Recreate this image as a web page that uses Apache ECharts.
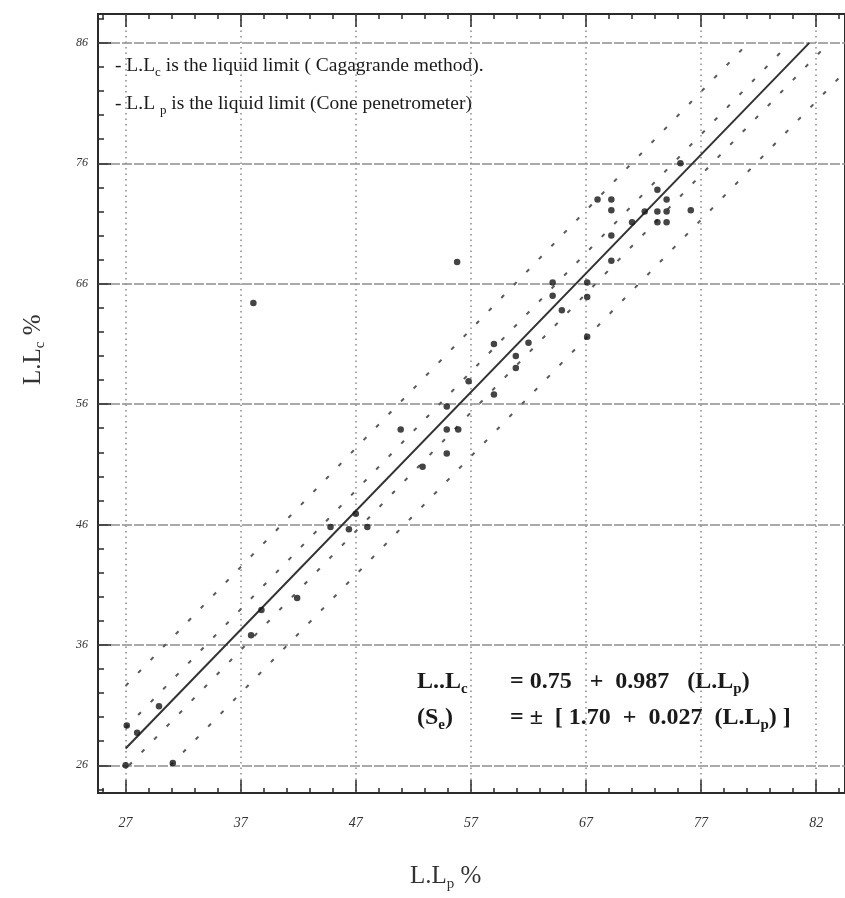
<!DOCTYPE html>
<html>
<head>
<meta charset="utf-8">
<script src="https://cdn.jsdelivr.net/npm/echarts@6/dist/echarts.min.js"></script>
<style>
  html, body { margin: 0; padding: 0; background: #fff; }
  #chart { width: 845px; height: 898px; }
</style>
</head>
<body>
<div id="chart"></div>
<script>
// tick positions and their printed text
var xTickValues = [27, 37, 47, 57, 67, 77, 87];
var xTickText = ['27', '37', '47', '57', '67', '77', '82'];
var yTickValues = [26, 36, 46, 56, 66, 76, 86];
var yTickText = ['26', '36', '46', '56', '66', '76', '86'];

// regression line and the dashed bands (end points)
var fitLine = [[27, 27.4], [86.4, 86.0]];
var upperInner = [[27, 29.1], [84.7, 86.0]];
var upperOuter = [[27, 32.6], [81.1, 86.0]];
var lowerInner = [[27.3, 26.0], [88.1, 86.0]];
var lowerOuter = [[30.9, 26.0], [89.5, 83.6]];

// measured points  L.Lp (x) / L.Lc (y)
var pointX = [27.0, 27.1, 28.0, 29.9, 31.1, 37.9, 38.8, 41.9, 38.1,
  44.8, 46.4, 47.0, 48.0, 50.9, 52.8, 54.9, 54.9, 55.9, 54.9,
  56.8, 59.0, 55.8, 59.0, 60.9, 60.9, 62.0, 64.1, 64.1, 64.9,
  67.1, 67.1, 67.1, 68.0, 69.2, 69.2, 69.2, 69.2, 71.0, 72.1,
  73.2, 73.2, 73.2, 74.0, 74.0, 74.0, 75.2, 76.1];
var pointY = [26.0, 29.3, 28.7, 30.9, 26.2, 36.8, 38.9, 39.9, 64.4,
  45.8, 45.6, 46.9, 45.8, 53.9, 50.8, 51.9, 53.9, 53.9, 55.8,
  57.9, 56.8, 67.8, 61.0, 59.0, 60.0, 61.1, 65.0, 66.1, 63.8,
  61.6, 64.9, 66.1, 73.0, 73.0, 72.1, 70.0, 67.9, 71.1, 72.0,
  71.1, 72.0, 73.8, 71.1, 72.0, 73.0, 76.0, 72.1];

var xMin = 24.6, xMax = 89.5, yMin = 23.7, yMax = 88.4;

var xMinor = [], yMinor = [];
for (var v = 25; v <= 89; v += 2) { if (xTickValues.indexOf(v) < 0) xMinor.push(v); }
for (var w = 24; w <= 88; w += 2) { if (yTickValues.indexOf(w) < 0) yMinor.push(w); }

var points = pointX.map(function (x, i) { return [x, pointY[i]]; });

var myChart = echarts.init(document.getElementById('chart'));

var serif = 'Liberation Serif';
var frameColor = '#2b2b2b';

function xAxisDef(pos, ticks, len, labels, split) {
  return {
    type: 'value', position: pos, min: xMin, max: xMax,
    axisLine: { show: false },
    axisTick: { show: true, inside: true, length: len, customValues: ticks,
      lineStyle: { color: frameColor, width: 1.5 } },
    axisLabel: labels ? {
      show: true, customValues: xTickValues, margin: 23,
      color: '#333', fontFamily: serif, fontStyle: 'italic', fontSize: 14,
      formatter: function (val) { return xTickText[xTickValues.indexOf(val)]; }
    } : { show: false },
    splitLine: split ? { show: true, lineStyle: { color: '#8a8a8a', width: 1.5, type: [1.5, 4] } } : { show: false }
  };
}
function yAxisDef(pos, ticks, len, labels, split) {
  return {
    type: 'value', position: pos, min: yMin, max: yMax,
    axisLine: { show: false },
    axisTick: { show: true, inside: true, length: len, customValues: ticks,
      lineStyle: { color: frameColor, width: 1.5 } },
    axisLabel: labels ? {
      show: true, customValues: yTickValues, margin: 10,
      color: '#333', fontFamily: serif, fontStyle: 'italic', fontSize: 12,
      formatter: function (val) { return yTickText[yTickValues.indexOf(val)]; }
    } : { show: false },
    splitLine: split ? { show: true, lineStyle: { color: '#8f8f8f', width: 1.5, type: [10, 2] } } : { show: false }
  };
}

var ink = '#1a1a1a';
var sub = { fontFamily: serif, fontSize: 13, lineHeight: 13, verticalAlign: 'bottom', fill: ink };
var nrm = { fontFamily: serif, fontSize: 19.5, lineHeight: 26, fill: ink };
var bsub = { fontFamily: serif, fontSize: 15, fontWeight: 'bold', lineHeight: 14, verticalAlign: 'bottom', fill: ink };
var bold = { fontFamily: serif, fontSize: 24, fontWeight: 'bold', lineHeight: 30, fill: ink };
var title = { fontFamily: serif, fontSize: 25, lineHeight: 30, fill: '#333' };
var tsub = { fontFamily: serif, fontSize: 15, lineHeight: 14, verticalAlign: 'bottom', fill: '#333' };

var bandStyle = { color: '#5a5a5a', width: 2, type: [4, 14] };

var option = {
  backgroundColor: '#fff',
  animation: false,
  grid: { left: 98, top: 14, width: 755, height: 779, show: true,
    borderColor: frameColor, borderWidth: 2, backgroundColor: 'transparent' },
  xAxis: [
    xAxisDef('bottom', xTickValues, 13, true, true),
    xAxisDef('bottom', xMinor, 5, false, false),
    xAxisDef('top', xTickValues, 13, false, false),
    xAxisDef('top', xMinor, 5, false, false)
  ],
  yAxis: [
    yAxisDef('left', yTickValues, 13, true, true),
    yAxisDef('left', yMinor, 6, false, false)
  ],
  series: [
    { name: 'upperOuter', type: 'line', data: upperOuter, symbol: 'none', lineStyle: bandStyle, z: 2 },
    { name: 'upperInner', type: 'line', data: upperInner, symbol: 'none', lineStyle: bandStyle, z: 2 },
    { name: 'lowerInner', type: 'line', data: lowerInner, symbol: 'none', lineStyle: bandStyle, z: 2 },
    { name: 'lowerOuter', type: 'line', data: lowerOuter, symbol: 'none', lineStyle: bandStyle, z: 2 },
    { name: 'fit', type: 'line', data: fitLine, symbol: 'none',
      lineStyle: { color: '#333', width: 2 }, z: 3 },
    { name: 'points', type: 'scatter', data: points, symbol: 'circle', symbolSize: 6.5,
      itemStyle: { color: '#151515' }, z: 4 }
  ],
  graphic: [
    { type: 'text', left: 115, top: 56, style: {
      text: '{n|- L.L}{s|c}{n| is the liquid limit ( Cagagrande method).}', rich: { n: nrm, s: sub } } },
    { type: 'text', left: 115, top: 94, style: {
      text: '{n|- L.L }{s|p}{n| is the liquid limit (Cone penetrometer)}', rich: { n: nrm, s: sub } } },
    { type: 'text', left: 417, top: 670, style: {
      text: '{b|L..L}{s|c}', rich: { b: bold, s: bsub } } },
    { type: 'text', left: 510, top: 670, style: {
      text: '{b|= 0.75   +  0.987   (L.L}{s|p}{b|)}', rich: { b: bold, s: bsub } } },
    { type: 'text', left: 417, top: 706, style: {
      text: '{b|(S}{s|e}{b|)}', rich: { b: bold, s: bsub } } },
    { type: 'text', left: 510, top: 706, style: {
      text: '{b|= \u00b1  [ 1.70  +  0.027  (L.L}{s|p}{b|) ]}', rich: { b: bold, s: bsub } } },
    { type: 'text', left: 410, top: 864, style: {
      text: '{n|L.L}{s|p}{n| %}', rich: { n: title, s: tsub } } },
    { type: 'text', x: 18, y: 385, rotation: Math.PI / 2, style: {
      text: '{n|L.L}{s|c}{n| %}', rich: { n: title, s: tsub } } }
  ]
};

myChart.setOption(option);
</script>
</body>
</html>
